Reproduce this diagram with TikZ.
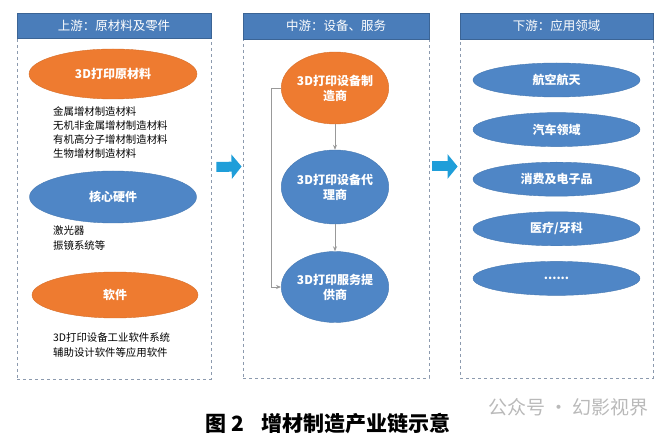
\documentclass[tikz,border=0pt]{standalone}
\usepackage{fontspec}
\newfontfamily\cjk{Noto Sans CJK SC}
\usetikzlibrary{shapes.geometric,arrows.meta}
\definecolor{hdblue}{HTML}{4A7DBA}
\definecolor{elblue}{HTML}{4F86C6}
\definecolor{elorange}{HTML}{EE7B30}
\definecolor{arrblue}{HTML}{1F9ED9}
\definecolor{boxgray}{HTML}{8C9AAE}

\begin{document}
\begin{tikzpicture}
  [x=1pt,y=-1pt,font=\cjk,
   panel/.style={draw=boxgray,dashed,line width=.8pt,inner sep=0pt},
   hd/.style={fill=hdblue,draw=hdblue!80!black,text=white,inner sep=0pt,
     font=\cjk\fontsize{12.5}{14}\selectfont},
   el/.style={ellipse,inner sep=0pt,text=white,align=center,
     font=\cjk\bfseries\fontsize{12}{15}\selectfont},
   oel/.style={el,fill=elorange,draw=elorange!90!black},
   bel/.style={el,fill=elblue,draw=elblue!90!black},
   lst/.style={anchor=north west,align=left,inner sep=0pt,
     font=\cjk\fontsize{10.4}{14.2}\selectfont},
   garr/.style={draw=gray!80,line width=.7pt,-{Stealth[length=5pt,width=4pt]}},
   bigarr/.style={draw=arrblue,line width=10pt,-{Triangle[length=10pt,width=24pt]}}]
  \useasboundingbox (0,0) rectangle (662,438);
  % panels
  \node[panel,minimum width=194,minimum height=366] (pl) at (114,196) {};
  \node[panel,minimum width=186,minimum height=365] (pm) at (336,195.5) {};
  \node[panel,minimum width=193,minimum height=365] (pr) at (556.5,195.5) {};
  \node[hd,minimum width=194,minimum height=25] (hl) at (114,25.5) {上游：原材料及零件};
  \node[hd,minimum width=186,minimum height=26] (hm) at (336,26) {中游：设备、服务};
  \node[hd,minimum width=193,minimum height=26] (hr) at (556.5,26) {下游：应用领域};
  % upstream
  \node[oel,minimum width=168,minimum height=50] (raw) at (113,74) {3D打印原材料};
  \node[lst] (rawl) at (53,106) {金属增材制造材料\\无机非金属增材制造材料\\有机高分子增材制造材料\\生物增材制造材料};
  \node[bel,minimum width=167,minimum height=52] (hw) at (113,197) {核心硬件};
  \node[lst] (hwl) at (53,226) {激光器\\振镜系统等};
  \node[oel,minimum width=166,minimum height=46] (sw) at (115,295) {软件};
  \node[lst] (swl) at (53,333) {3D打印设备工业软件系统\\辅助设计软件等应用软件};
  % midstream
  \node[oel,minimum width=90,minimum height=72] (mfr) at (335,88) {3D打印设备制\\造商};
  \node[bel,minimum width=97,minimum height=74] (agt) at (335,187) {3D打印设备代\\理商};
  \node[bel,minimum width=90,minimum height=71] (svc) at (335,287) {3D打印服务提\\供商};
  \draw[garr] (mfr) -- (agt);
  \draw[garr] (agt) -- (svc);
  \draw[garr] (mfr.west) -- ++(-10,0) |- (svc.west);
  % downstream
  \foreach \name/\txt [count=\i from 0] in
    {aero/航空航天,auto/汽车领域,cons/消费及电子品,med/{医疗/牙科},etc/{{......}}}
    \node[bel,minimum width=167,minimum height=34] (\name) at (556.5,80+49.6*\i) {\txt};
  % flow arrows
  \draw[bigarr] ([shift={(5,-29)}]pl.east) -- ([shift={(-1,-29)}]pm.west);
  \draw[bigarr] ([shift={(3,-29)}]pm.east) -- ([shift={(-2,-29)}]pr.west);
  % caption
  \node[anchor=west,inner sep=0pt,font=\cjk\bfseries\fontsize{21}{24}\selectfont] (cap) at (205,424) {图 2\hspace{18pt}增材制造产业链示意};
  \node[anchor=west,inner sep=0pt,text=gray!55,font=\cjk\fontsize{19}{22}\selectfont] (wm) at (488,407) {公众号 · 幻影视界};
\end{tikzpicture}
\end{document}
